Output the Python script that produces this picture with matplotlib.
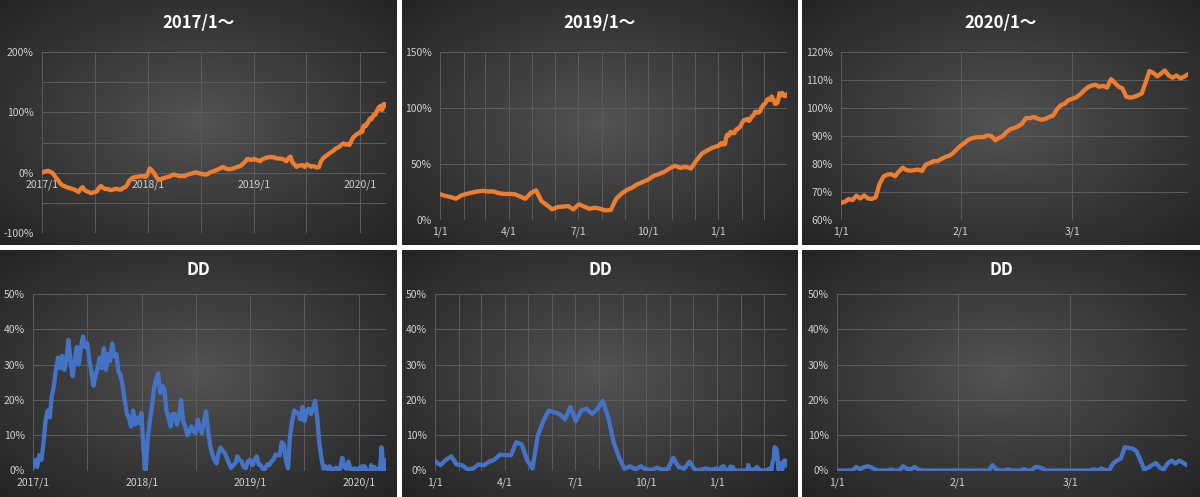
import numpy as np
import pandas as pd
import matplotlib.pyplot as plt
import matplotlib.dates as mdates
from matplotlib.ticker import MultipleLocator, FuncFormatter

plt.rcParams['font.family'] = ['Noto Sans CJK JP', 'DejaVu Sans']

# cumulative return (%) and drawdown (%)
# 2017-2018, weekly
dates_a = pd.date_range('2017-01-01', periods=105, freq='7D')
ret_a = [0, 1.5, 2.5, 3, 1.5, 0, -4, -9, -13, -18,
         -21, -22, -24, -25, -26, -27, -28, -30, -32, -27,
         -24, -29, -31, -32, -34, -33, -32, -31, -25, -22,
         -25, -27, -27, -28, -29, -28, -27, -27, -28, -28,
         -25, -24, -20, -13, -10, -8, -7, -7, -6, -6,
         -6, -7, -2, 7, 4, 0, -6, -11, -12, -10,
         -9, -8, -7, -6, -4, -3, -4, -5, -6, -5,
         -6, -4, -3, -2, -1, 0, 0.5, -1, -1.5, -2,
         -3, -3, -1, 1, 2, 3, 4.5, 6, 8, 9.5,
         8, 6, 5.5, 6, 7, 8, 9.5, 10, 12, 15,
         18, 23, 22, 21, 22]
dd_a = [1, 3, 1, 4.4, 3, 7.5, 14, 17, 15, 21,
        24, 28.5, 32, 29, 32.5, 28.5, 31, 37, 31, 26.7,
        31, 35, 30, 35, 38, 35, 36, 31.4, 28, 24,
        27, 29, 32, 29, 34.7, 28.5, 33, 31, 36, 32.3,
        33, 28, 27, 23.8, 20, 16, 15, 12.5, 17, 13,
        15, 13.4, 16.3, 6, 0.2, 8.7, 14, 18, 23, 26,
        27.5, 22, 24, 23, 17, 15, 12.5, 16, 16, 13,
        15, 20, 14, 12.5, 10, 11, 12.5, 11, 10.6, 14.4,
        12, 10.6, 14, 16.7, 11, 7, 4.5, 3, 2, 5,
        6.5, 5.5, 4.9, 3.5, 2, 0.7, 1.5, 2, 4, 3,
        2.6, 1, 0.7, 2.5, 3]

# 2019, weekly
dates_b = pd.date_range('2019-01-01', periods=53, freq='7D')
ret_b = [23, 21.5, 20.5, 19, 22, 23.3, 24.5, 25.5, 26, 25.5,
         25.5, 24, 23.3, 23.3, 23, 21, 19, 24, 26.5, 17,
         13.4, 9.5, 11.5, 12, 12.5, 9.5, 14, 12, 10, 11,
         10, 8.5, 9, 19, 23.5, 26.8, 29, 32, 34, 36,
         39.4, 41, 43, 46, 48.5, 46.5, 47.5, 46, 53, 59,
         62, 64.5, 66]
dd_b = [2.7, 1.5, 3, 4, 1.7, 1.5, 0.3, 0.5, 1.7, 1.5,
        2.5, 3.1, 4.5, 4.4, 4.3, 8, 7.4, 3, 0.6, 10,
        14, 17, 16.5, 16, 14.5, 18, 14, 17, 17.5, 16,
        17.5, 19.7, 15, 8, 3.6, 0.5, 1.2, 0.3, 1.2, 0.3,
        0.2, 0.8, 0.2, 0.5, 3.6, 1, 0.5, 2.5, 0.2, 0.2,
        0.6, 0.2, 0.6]

# 2020 Q1, daily
dates_c = pd.date_range('2020-01-01', '2020-03-31', freq='D')
ret_c = [66.1, 66.5, 67.5, 67.1, 68.7, 67.7, 68.8, 67.7, 67.5, 68.1,
         72.9, 75.5, 76.2, 76.4, 75.6, 77.3, 78.7, 77.8, 77.6, 77.8,
         78.0, 77.5, 79.8, 80.3, 81.0, 81.0, 81.8, 82.5, 82.9, 83.8,
         85.2, 86.5, 87.5, 88.6, 89.2, 89.5, 89.6, 89.6, 90.2, 90.0,
         88.5, 89.3, 90.0, 91.5, 92.5, 92.9, 93.5, 94.5, 96.4, 96.4,
         96.8, 96.2, 95.8, 96.1, 96.8, 97.3, 99.5, 101.0, 101.5, 102.8,
         103.3, 103.8, 104.8, 106.2, 107.4, 108.0, 108.3, 107.6, 107.9, 107.3,
         110.3, 109.0, 107.6, 107.0, 104.0, 103.7, 104.0, 104.5, 105.2, 109.0,
         113.2, 112.5, 111.3, 112.3, 113.4, 111.6, 110.8, 111.6, 110.6, 111.2, 112.0]
dd_c = [0, 0, 0, 0, 0, 1.0, 0.3, 1.0, 1.2, 0.8,
        0.2, 0, 0, 0, 0.3, 0, 0, 1.2, 0.5, 0.3,
        1.0, 0.2, 0, 0, 0, 0, 0, 0, 0, 0,
        0, 0, 0, 0, 0, 0, 0, 0, 0, 0,
        1.5, 0.3, 0, 0, 0.3, 0, 0, 0, 0.4, 0,
        0, 1.0, 0.9, 0.5, 0, 0, 0, 0, 0, 0,
        0, 0, 0, 0, 0, 0, 0.4, 0, 0.6, 0.1,
        0.1, 2.0, 2.8, 3.4, 6.6, 6.4, 6.2, 5.5, 3.0, 0.3,
        0.8, 1.5, 2.1, 0.8, 0.3, 2.0, 2.8, 2.0, 2.8, 2.2, 1.5]

dates = dates_a.append(dates_b).append(dates_c)
ret = pd.Series(ret_a + ret_b + ret_c, index=dates)
dd = pd.Series(dd_a + dd_b + dd_c, index=dates)

starts = ['2017-01-01', '2019-01-01', '2020-01-01']
titles = ['2017/1～', '2019/1～', '2020/1～']
end = pd.Timestamp('2020-03-31')

ORANGE = '#ED7D31'
BLUE = '#4472C4'
W, H = 1200, 497

fig = plt.figure(figsize=(12, 4.97), dpi=100)
fig.patch.set_facecolor('white')


def frac(x0, y0, x1, y1):
    return [x0 / W, 1 - y1 / H, (x1 - x0) / W, (y1 - y0) / H]


# radial gradient background for each chart
yy, xx = np.mgrid[-1:1:200j, -1:1:300j]
r = np.sqrt(xx ** 2 + yy ** 2) / np.sqrt(2)
g = 0.33 - 0.19 * r ** 0.9
bg = np.dstack([g, g, g])

cols = [(0, 397), (402, 798), (802, 1200)]
rows = [(0, 245), (250, 497)]
for (y0, y1) in rows:
    for (x0, x1) in cols:
        b = fig.add_axes(frac(x0, y0, x1, y1))
        b.imshow(bg, aspect='auto', extent=[0, 1, 0, 1])
        b.axis('off')

# plot areas in pixels
top_rects = [(42, 52, 386, 233), (440, 52, 787, 220), (841, 52, 1188, 220)]
bot_rects = [(33, 294, 386, 470.5), (435, 294, 787, 470.5), (837, 294, 1187, 470.5)]
top_ylims = [(-100, 200, 100, 50), (0, 150, 50, 50), (60, 120, 10, 10)]


def fmt_year(x, pos):
    d = mdates.num2date(x)
    return f'{d.year}/{d.month}'


def fmt_md(x, pos):
    d = mdates.num2date(x)
    return f'{d.month}/{d.day}'


def setup(ax, i, ylim):
    lo, hi, major, minor = ylim
    ax.set_facecolor('none')
    for s in ax.spines.values():
        s.set_visible(False)
    ax.set_ylim(lo, hi)
    ax.yaxis.set_major_locator(MultipleLocator(major))
    ax.yaxis.set_minor_locator(MultipleLocator(minor))
    ax.yaxis.set_major_formatter(FuncFormatter(lambda v, p: f'{int(round(v))}%'))
    ax.set_xlim(pd.Timestamp(starts[i]), end)
    if i == 0:
        ax.xaxis.set_major_locator(mdates.YearLocator())
        ax.xaxis.set_minor_locator(mdates.MonthLocator(bymonth=[1, 7]))
        ax.xaxis.set_major_formatter(FuncFormatter(fmt_year))
    elif i == 1:
        ax.xaxis.set_major_locator(mdates.MonthLocator(bymonth=[1, 4, 7, 10]))
        ax.xaxis.set_minor_locator(mdates.MonthLocator())
        ax.xaxis.set_major_formatter(FuncFormatter(fmt_md))
    else:
        ax.xaxis.set_major_locator(mdates.MonthLocator())
        ax.xaxis.set_minor_locator(mdates.MonthLocator())
        ax.xaxis.set_major_formatter(FuncFormatter(fmt_md))
    ax.grid(which='both', color='#5c5c5c', lw=0.7)
    ax.set_axisbelow(True)
    ax.tick_params(which='both', length=0, colors='#d0d0d0', labelsize=7.5)
    ax.tick_params(axis='y', pad=6)
    ax.tick_params(axis='x', pad=5)


for i in range(3):
    ax = fig.add_axes(frac(*top_rects[i]))
    setup(ax, i, top_ylims[i])
    if i == 0:
        ax.spines['bottom'].set_position(('data', 0))
    s = ret[ret.index >= pd.Timestamp(starts[i])]
    ax.plot(s.index, s.values, color=ORANGE, lw=3.1, solid_joinstyle='round')
    x0, x1 = cols[i]
    fig.text((x0 + x1) / 2 / W, 1 - 23 / H, titles[i], ha='center', va='center',
             color='white', fontsize=12, fontweight='bold')

    ax = fig.add_axes(frac(*bot_rects[i]))
    setup(ax, i, (0, 50, 10, 10))
    s = dd[dd.index >= pd.Timestamp(starts[i])]
    ax.plot(s.index, s.values, color=BLUE, lw=3.1, solid_joinstyle='round')
    fig.text((x0 + x1) / 2 / W, 1 - 270 / H, 'DD', ha='center', va='center',
             color='white', fontsize=12, fontweight='bold')

fig.savefig('out.png', dpi=100, facecolor='white')
